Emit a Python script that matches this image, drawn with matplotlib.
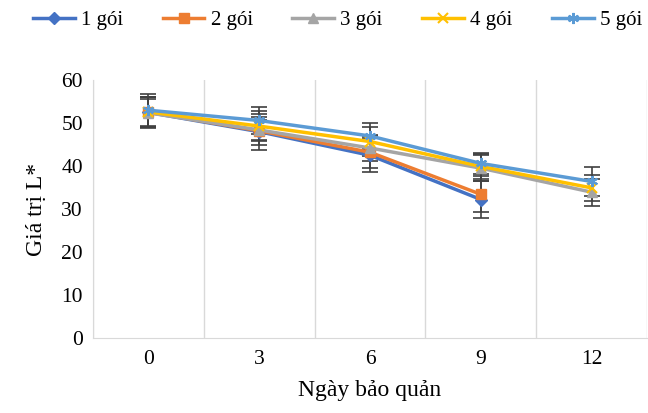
import numpy as np
import matplotlib.pyplot as plt

plt.rcParams['font.family'] = ['Liberation Serif', 'DejaVu Serif']

# Days of storage and L* values per number of packets
days = [0, 3, 6, 9, 12]
labels = ['1 gói', '2 gói', '3 gói', '4 gói', '5 gói']

l_1 = [52.5, 48.0, 42.5, 32.2, np.nan]
l_2 = [52.6, 48.2, 43.2, 33.4, np.nan]
l_3 = [52.4, 48.4, 44.2, 39.5, 33.9]
l_4 = [52.6, 49.3, 45.7, 39.9, 34.9]
l_5 = [53.0, 50.6, 47.0, 40.6, 36.4]

err_1 = [3.6, 4.2, 4.0, 4.2, 0]
err_2 = [3.4, 3.3, 3.7, 4.2, 0]
err_3 = [3.2, 2.3, 3.0, 3.0, 3.1]
err_4 = [3.5, 3.4, 3.3, 3.0, 3.1]
err_5 = [3.7, 3.2, 3.0, 2.5, 3.4]

series = [l_1, l_2, l_3, l_4, l_5]
errors = [err_1, err_2, err_3, err_4, err_5]
colors = ['#4472C4', '#ED7D31', '#A5A5A5', '#FFC000', '#5B9BD5']
markers = ['D', 's', '^', 'x', (6, 2, 0)]
msizes = [6, 7, 7, 7, 8]

fig = plt.figure(figsize=(6.48, 4.13), dpi=100)
ax = fig.add_axes([0.143, 0.182, 0.856, 0.624])

for vals, errs, c, m, ms, lab in zip(series, errors, colors, markers, msizes, labels):
    vals = np.array(vals)
    ok = ~np.isnan(vals)
    x = np.array(days)[ok]
    ax.errorbar(x, vals[ok], yerr=np.array(errs)[ok], fmt='none',
                ecolor='#404040', elinewidth=1.2, capsize=6, capthick=1.2, zorder=2)
    ax.plot(x, vals[ok], color=c, marker=m, markersize=ms, linewidth=2.5,
            markeredgewidth=1.5 if m in ('x', (6, 2, 0)) else 1,
            label=lab, zorder=3)

ax.set_xlim(-1.5, 13.5)
ax.set_ylim(0, 60)
ax.set_xticks(days)
ax.set_yticks(range(0, 61, 10))
ax.set_xticks(np.arange(-1.5, 13.6, 3), minor=True)
ax.grid(axis='x', which='minor', color='#D9D9D9', linewidth=1)
ax.tick_params(which='both', length=0, labelsize=15.5)
ax.tick_params(axis='x', pad=9)
ax.tick_params(axis='y', pad=7)

for s in ['top', 'right']:
    ax.spines[s].set_visible(False)
for s in ['left', 'bottom']:
    ax.spines[s].set_color('#D9D9D9')

ax.set_xlabel('Ngày bảo quản', fontsize=17, labelpad=8)
ax.set_ylabel('Giá trị L*', fontsize=17, labelpad=10)

fig.legend(loc='upper center', bbox_to_anchor=(0.521, 1.02), ncol=5, frameon=False,
           fontsize=15, handlelength=2.0, columnspacing=1.9, handletextpad=0.3)

fig.savefig('out.png', dpi=100)
